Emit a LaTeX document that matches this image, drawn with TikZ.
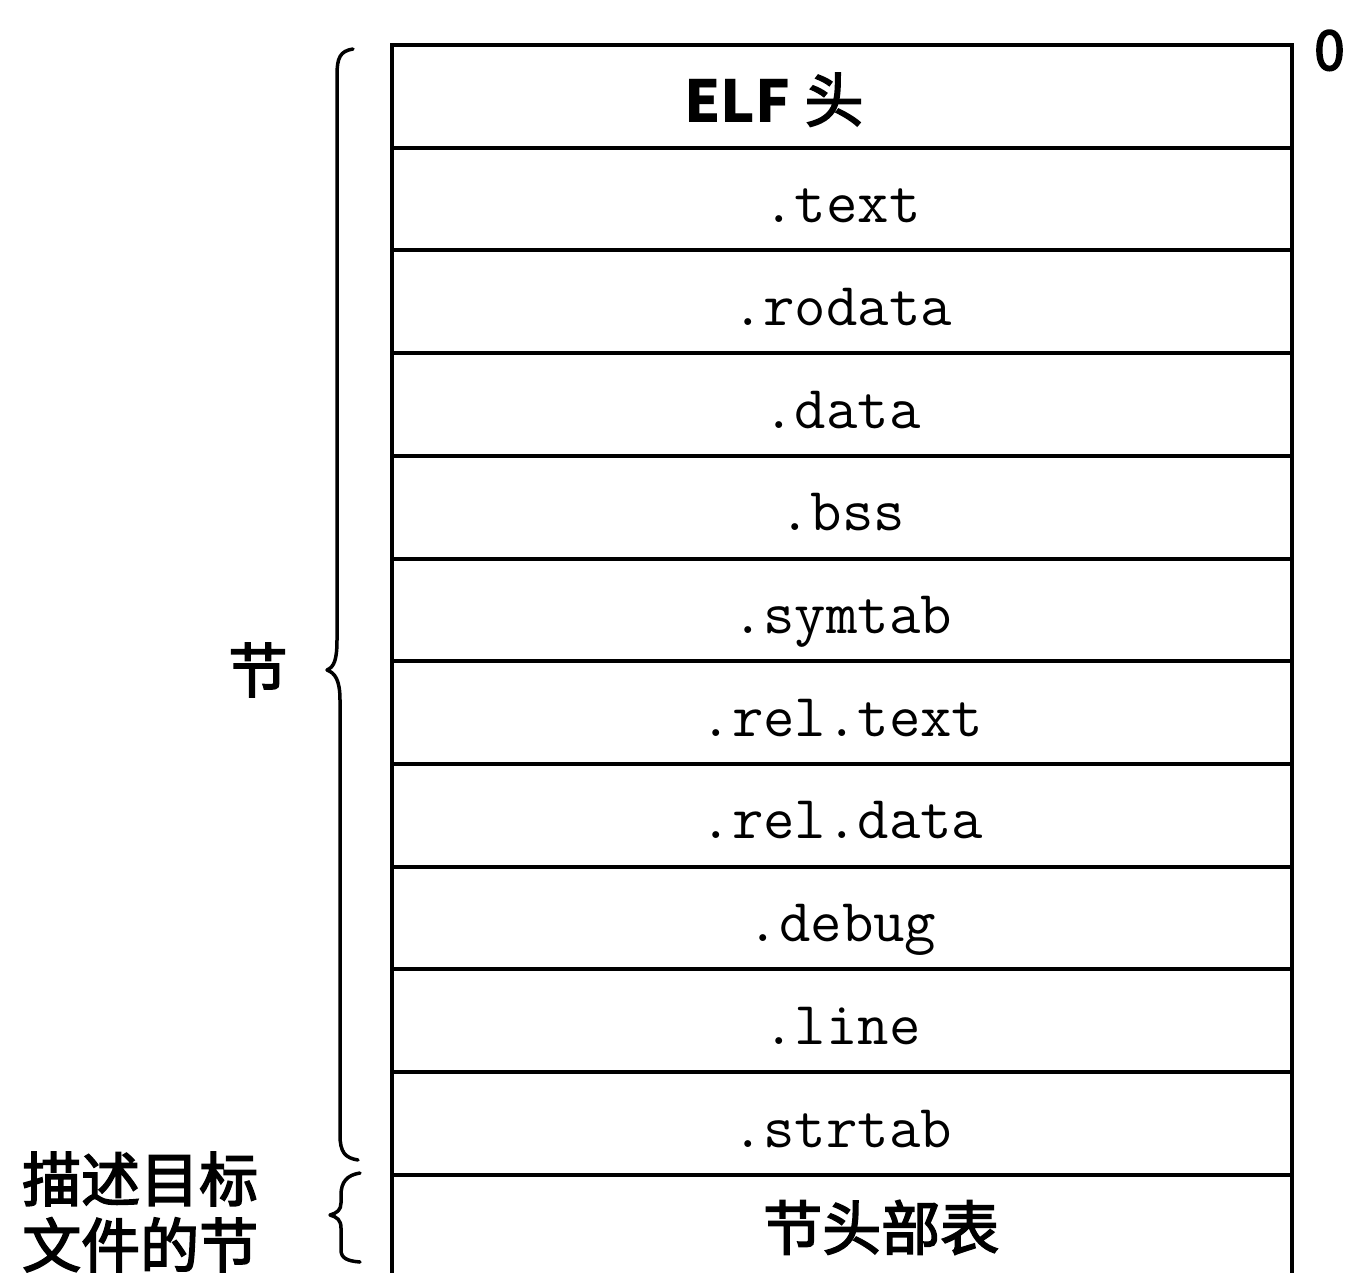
\documentclass[tikz,border=0pt]{standalone}
\usepackage{fontspec}
\newfontfamily\cjk{Noto Sans CJK SC}
\newcommand\heavytext[1]{\special{pdf:literal direct 2 Tr 1.6 w}#1\special{pdf:literal direct 0 Tr}}
\begin{document}
\begin{tikzpicture}[x=1pt,y=-1pt,
  cell/.style={draw,line width=4pt,minimum width=900pt,minimum height=102.7pt,inner sep=0pt,
    text height=75pt,text depth=27.7pt,
    font=\fontsize{61}{63}\selectfont\ttfamily},
  cjktxt/.style={inner sep=0pt,font=\fontsize{59}{66}\selectfont\cjk},
  bracepath/.style={line width=3.5pt,line cap=round,line join=round}]
\useasboundingbox (0,0) rectangle (1352,1272);
\node[cell] (r0) at (842,96.35) {};
\node[cell] (r1) at (842,199.05) {.text};
\node[cell] (r2) at (842,301.75) {.rodata};
\node[cell] (r3) at (842,404.45) {.data};
\node[cell] (r4) at (842,507.15) {.bss};
\node[cell] (r5) at (842,609.85) {.symtab};
\node[cell] (r6) at (842,712.55) {.rel.text};
\node[cell] (r7) at (842,815.25) {.rel.data};
\node[cell] (r8) at (842,917.95) {.debug};
\node[cell] (r9) at (842,1020.65) {.line};
\node[cell] (r10) at (842,1123.35) {.strtab};
\node[cell] (r11) at (842,1226.05) {};
\node[cjktxt,anchor=base west] (elf) at (684,122) {{\fontsize{58}{60}\selectfont\bfseries ELF}\hspace{14pt}\heavytext{头}};
\node[cjktxt,anchor=base west] (sht) at (763,1250) {\heavytext{节头部表}};
\node[cjktxt,anchor=base west,font=\fontsize{55}{60}\selectfont\cjk] (zero) at (1314,70) {\heavytext{0}};
% big brace
\coordinate (b1) at (353,49);
\coordinate (b2) at (327,670);
\coordinate (b3) at (358,1160);
\draw[bracepath] (b1) .. controls (340,51) and (337,58) .. (337,75)
  -- (337,640) .. controls (337,660) and (334,667) .. (b2)
  .. controls (335,673) and (340,680) .. (340,700)
  -- (340,1135) .. controls (340,1152) and (345,1158) .. (b3);
% small brace
\coordinate (c1) at (360,1173);
\coordinate (c2) at (330,1215);
\coordinate (c3) at (360,1262);
\draw[bracepath] (c1) .. controls (347,1175) and (341,1182) .. (341,1195)
  -- (341,1203) .. controls (341,1210) and (337,1213) .. (c2)
  .. controls (337,1217) and (341,1220) .. (341,1228)
  -- (341,1250) .. controls (341,1258) and (347,1261) .. (c3);
\node[cjktxt] (jie) at (258,670) {\heavytext{节}};
\node[cjktxt,anchor=west,align=left] (desc) at (22,1212) {\heavytext{描述目标}\\\heavytext{文件的节}};
\end{tikzpicture}
\end{document}
